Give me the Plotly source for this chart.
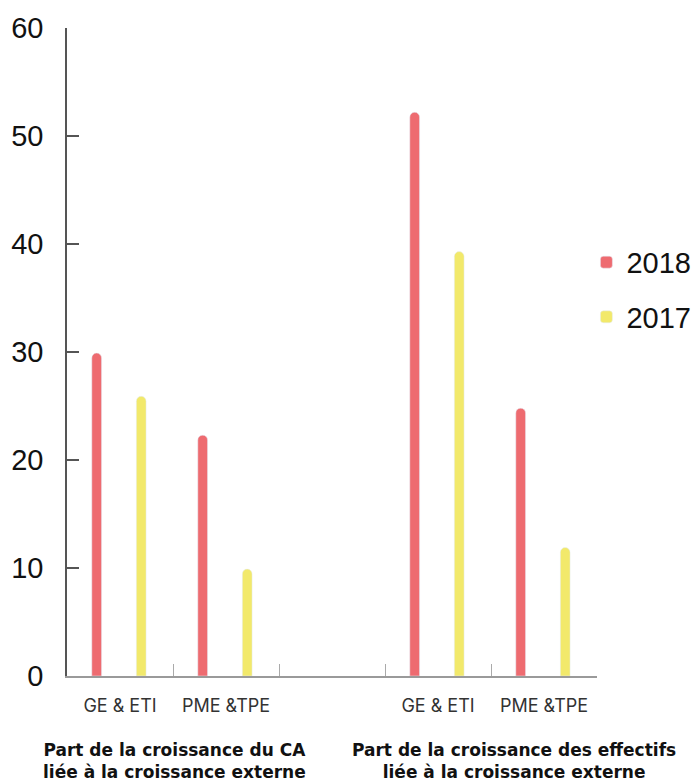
import plotly.graph_objects as go

# Category slots: CA group (0, 1), spacer (2), headcount group (3, 4)
positions = [0, 1, 3, 4]
category_labels = ["GE & ETI", "PME &TPE", "GE & ETI", "PME &TPE"]
label_positions = [0, 1, 3, 4]
boundary_ticks = [0.5, 1.5, 2.5, 3.5, 4.5]

values_2018 = [29.9, 22.3, 52.2, 24.8]
values_2017 = [25.9, 9.9, 39.3, 11.9]

group_titles = [
    "Part de la croissance du CA<br>liée à la croissance externe",
    "Part de la croissance des effectifs<br>liée à la croissance externe",
]

y_ticks = [0, 10, 20, 30, 40, 50, 60]

RED = "#ee6b70"
YELLOW = "#f2e96b"
BAR_W = 0.092

fig = go.Figure()
fig.add_trace(go.Bar(
    x=positions, y=values_2018, name="2018", marker_color=RED,
    width=BAR_W, offset=-0.22 - BAR_W / 2, legendgroup="a",
))
fig.add_trace(go.Bar(
    x=positions, y=values_2017, name="2017", marker_color=YELLOW,
    width=BAR_W, offset=0.20 - BAR_W / 2, legendgroup="b",
))
# empty carrier so the boundary-tick axis gets drawn
fig.add_trace(go.Scatter(
    x=[boundary_ticks[0]], y=[None], xaxis="x2", mode="markers",
    showlegend=False, hoverinfo="skip",
))

fig.update_layout(
    width=700, height=784,
    margin=dict(l=67, r=103, t=28, b=108, autoexpand=False),
    plot_bgcolor="white", paper_bgcolor="white",
    barmode="overlay",
    barcornerradius="50%",
    showlegend=True,
    legend=dict(
        x=0.98, xanchor="left", y=0.596, yanchor="middle",
        font=dict(family="Liberation Sans, Arial, sans-serif", size=29, color="#111"),
        tracegroupgap=14, itemwidth=30,
    ),
    xaxis=dict(
        range=[-0.5, 4.5],
        tickvals=label_positions, ticktext=category_labels,
        ticks="", showgrid=False, zeroline=False,
        showline=True, linecolor="#9a9a9a", linewidth=2,
        tickfont=dict(family="Inter, Lato, sans-serif", size=18, color="#333"),
        ticklabelstandoff=12,
    ),
    xaxis2=dict(
        range=[-0.5, 4.5], overlaying="x", anchor="y", side="bottom",
        tickvals=boundary_ticks, ticks="inside", ticklen=12, tickwidth=1,
        tickcolor="#aaaaaa", showticklabels=False, showgrid=False,
        showline=False, zeroline=False,
    ),
    yaxis=dict(
        range=[0, 60], tickvals=y_ticks,
        ticks="inside", ticklen=12, tickwidth=1.5, tickcolor="#555",
        showline=True, linecolor="#555", linewidth=1.5,
        showgrid=False, zeroline=False,
        tickfont=dict(family="Liberation Sans, Arial, sans-serif", size=29, color="#111"),
        ticklabelstandoff=16,
    ),
)

for title, xc in zip(group_titles, [0.2019, 0.8434]):
    fig.add_annotation(
        text=title, xref="paper", yref="paper", x=xc, y=-0.1305,
        xanchor="center", yanchor="middle", showarrow=False, align="center",
        font=dict(family="DejaVu Sans, sans-serif", size=17, color="#111", weight="bold"),
    )

fig.write_html("out.html")
